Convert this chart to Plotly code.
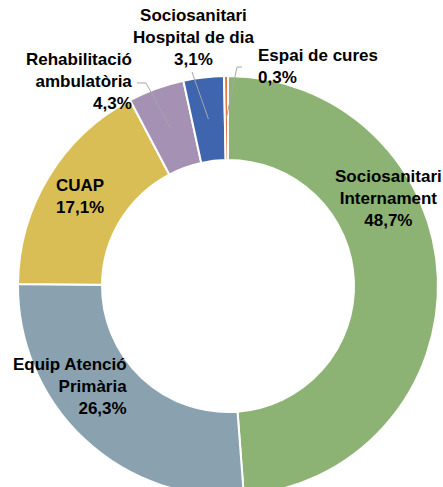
import math
import plotly.graph_objects as go

# ---- data ----
categories = ["Sociosanitari Internament", "Equip Atenció Primària", "CUAP",
              "Rehabilitació ambulatòria", "Sociosanitari Hospital de dia", "Espai de cures"]
label_lines = ["Sociosanitari<br>Internament", "Equip Atenció<br>Primària", "CUAP",
               "Rehabilitació<br>ambulatòria", "Sociosanitari<br>Hospital de dia", "Espai de cures"]
values = [48.7, 26.3, 17.1, 4.3, 3.1, 0.3]
colors = ["#8DB374", "#8AA2B0", "#D8BE55", "#A591B3", "#3E65AE", "#E5733A"]

W, H = 443, 500
CX, CY, R = 228, 286, 210  # pie geometry in pixels


def px(x, y):
    return x / W, 1 - y / H


fig = go.Figure(go.Pie(
    labels=categories, values=values, sort=False, direction="clockwise", rotation=0,
    hole=0.6, marker=dict(colors=colors, line=dict(color="white", width=2)),
    textinfo="none", hoverinfo="label+percent", showlegend=False,
    domain=dict(x=[(CX - R) / W, (CX + R) / W], y=[1 - (CY + R) / H, 1 - (CY - R) / H]),
))

# label placement (pixels): x, y, xanchor, align
label_pos = [
    (388, 198, "center", "center"),
    (129, 386, "right", "right"),
    (80, 196, "center", "center"),
    (134, 81, "right", "right"),
    (193, 38, "center", "center"),
    (256, 66, "left", "left"),
]

annotations = []
for name, v, (x, y, xa, al) in zip(label_lines, values, label_pos):
    ax, ay = px(x, y)
    pct = f"{v:.1f}%".replace(".", ",")
    txt = f"<b>{name}<br>{pct}</b>"
    annotations.append(dict(
        text=txt, x=ax, y=ay, xref="paper", yref="paper", xanchor=xa, yanchor="middle",
        align=al, showarrow=False,
        font=dict(family="Arial, Liberation Sans, sans-serif", size=17, color="#000000"),
    ))

# leader lines for small slices: start points (pixels) then to slice at 0.8 R
total = sum(values)
cum = 0
mids = []
for v in values:
    mids.append((cum + v / 2) / total * 2 * math.pi)
    cum += v

leader_starts = {
    3: [(137, 83), (146, 83)],
    4: [(192, 72)],
    5: [(242, 67), (237, 67)],
}
shapes = []
for i, pts in leader_starts.items():
    a = mids[i]
    ex, ey = CX + 0.8 * R * math.sin(a), CY - 0.8 * R * math.cos(a)
    allpts = pts + [(ex, ey)]
    path = ""
    for k, (x, y) in enumerate(allpts):
        X, Y = px(x, y)
        path += ("M" if k == 0 else " L") + f" {X} {Y}"
    shapes.append(dict(type="path", path=path, xref="paper", yref="paper",
                       line=dict(color="#A6A6A6", width=1)))

fig.update_layout(
    width=W, height=H, margin=dict(l=0, r=0, t=0, b=0),
    paper_bgcolor="white", plot_bgcolor="white",
    annotations=annotations, shapes=shapes,
)

fig.write_html("out.html", config={"displayModeBar": False},
               post_script="document.body.style.margin='0';document.body.style.overflow='hidden';")
